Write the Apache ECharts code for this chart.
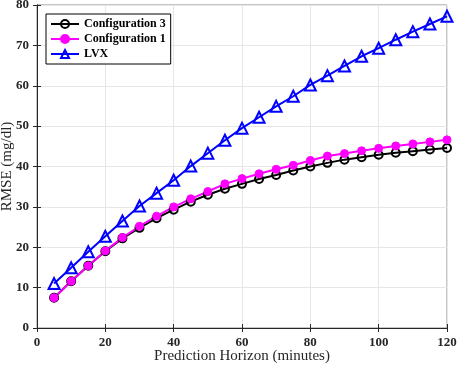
<!DOCTYPE html>
<html>
<head>
<meta charset="utf-8">
<script src="https://cdn.jsdelivr.net/npm/echarts@6/dist/echarts.min.js"></script>
<style>
  html, body { margin: 0; padding: 0; background: #fff; }
  #main { width: 457px; height: 365px; }
</style>
</head>
<body>
<div id="main"></div>
<script>
// prediction horizon (minutes)
var horizon = [5, 10, 15, 20, 25, 30, 35, 40, 45, 50, 55, 60, 65, 70, 75, 80, 85, 90, 95, 100, 105, 110, 115, 120];

var config3 = [7.5, 11.6, 15.4, 19.0, 22.2, 24.8, 27.2, 29.3, 31.3, 33.0, 34.5, 35.7, 36.9, 37.9, 39.0, 40.0, 40.9, 41.7, 42.3, 42.9, 43.4, 43.8, 44.2, 44.6];
var config1 = [7.5, 11.6, 15.4, 19.1, 22.4, 25.2, 27.7, 30.0, 32.0, 33.8, 35.7, 37.0, 38.2, 39.3, 40.3, 41.5, 42.6, 43.2, 43.9, 44.5, 45.1, 45.6, 46.1, 46.6];
var lvx = [11.0, 14.9, 18.9, 22.7, 26.5, 30.2, 33.4, 36.6, 40.1, 43.3, 46.5, 49.5, 52.2, 54.9, 57.4, 60.2, 62.5, 64.9, 67.3, 69.3, 71.4, 73.4, 75.3, 77.2];

function pairs(ys) {
    return horizon.map(function (x, i) { return [x, ys[i]]; });
}

var chartDom = document.getElementById('main');
var myChart = echarts.init(chartDom);
var option;

var tickFont = { fontFamily: 'Liberation Serif', fontWeight: 'bold', fontSize: 13, color: '#262626' };

option = {
    animation: false,
    grid: {
        left: 37, right: 10, top: 5, bottom: 37,
        outerBoundsMode: 'none',
        show: true, borderColor: '#8c8c8c', borderWidth: 1
    },
    legend: {
        orient: 'vertical',
        left: 46, top: 14,
        itemWidth: 28, itemHeight: 10, itemGap: 3,
        padding: [4, 5, 4, 4],
        borderColor: '#000', borderWidth: 1,
        backgroundColor: '#fff',
        textStyle: { fontFamily: 'Liberation Serif', fontWeight: 'bold', fontSize: 12, color: '#000' },
        data: ['Configuration 3', 'Configuration 1', 'LVX']
    },
    xAxis: [{
        type: 'value', min: 0, max: 120, interval: 20,
        name: 'Prediction Horizon (minutes)',
        nameLocation: 'middle', nameGap: 21, nameMoveOverlap: false,
        nameTextStyle: { fontFamily: 'Liberation Serif', fontSize: 15, color: '#262626' },
        axisLine: { onZero: false, lineStyle: { color: '#262626' } },
        axisTick: { inside: true, length: 4, lineStyle: { color: '#262626' } },
        axisLabel: Object.assign({ margin: 8 }, tickFont),
        splitLine: { show: true, lineStyle: { color: '#e6e6e6' } }
    }, {
        type: 'value', min: 0, max: 120, interval: 20, position: 'top',
        axisLine: { show: false },
        axisTick: { inside: true, length: 4, lineStyle: { color: '#262626' } },
        axisLabel: { show: false }, splitLine: { show: false }
    }],
    yAxis: [{
        type: 'value', min: 0, max: 80, interval: 10,
        name: 'RMSE (mg/dl)',
        nameLocation: 'middle', nameGap: 22, nameMoveOverlap: false,
        nameTextStyle: { fontFamily: 'Liberation Serif', fontSize: 15, color: '#262626' },
        axisLine: { show: true, onZero: false, lineStyle: { color: '#262626' } },
        axisTick: { show: true, inside: true, length: 4, lineStyle: { color: '#262626' } },
        axisLabel: Object.assign({ margin: 8 }, tickFont),
        splitLine: { show: true, lineStyle: { color: '#e6e6e6' } }
    }, {
        type: 'value', min: 0, max: 80, interval: 10, position: 'right',
        axisLine: { show: true, lineStyle: { color: '#262626' } },
        axisTick: { show: true, inside: true, length: 4, lineStyle: { color: '#262626' } },
        axisLabel: { show: false }, splitLine: { show: false }
    }],
    series: [
        {
            name: 'Configuration 3', type: 'line',
            data: pairs(config3),
            symbol: 'circle', symbolSize: 8,
            lineStyle: { color: '#000', width: 2 },
            itemStyle: { color: 'rgba(0,0,0,0)', borderColor: '#000', borderWidth: 2 }
        },
        {
            name: 'Configuration 1', type: 'line',
            data: pairs(config1),
            symbol: 'circle', symbolSize: 8,
            lineStyle: { color: '#ff00ff', width: 2 },
            itemStyle: { color: '#ff00ff', borderColor: '#ff00ff', borderWidth: 1 }
        },
        {
            name: 'LVX', type: 'line',
            data: pairs(lvx),
            symbol: 'triangle', symbolSize: 11,
            lineStyle: { color: '#0000ff', width: 2 },
            itemStyle: { color: 'rgba(0,0,0,0)', borderColor: '#0000ff', borderWidth: 2 }
        }
    ]
};

option && myChart.setOption(option);
</script>
</body>
</html>
